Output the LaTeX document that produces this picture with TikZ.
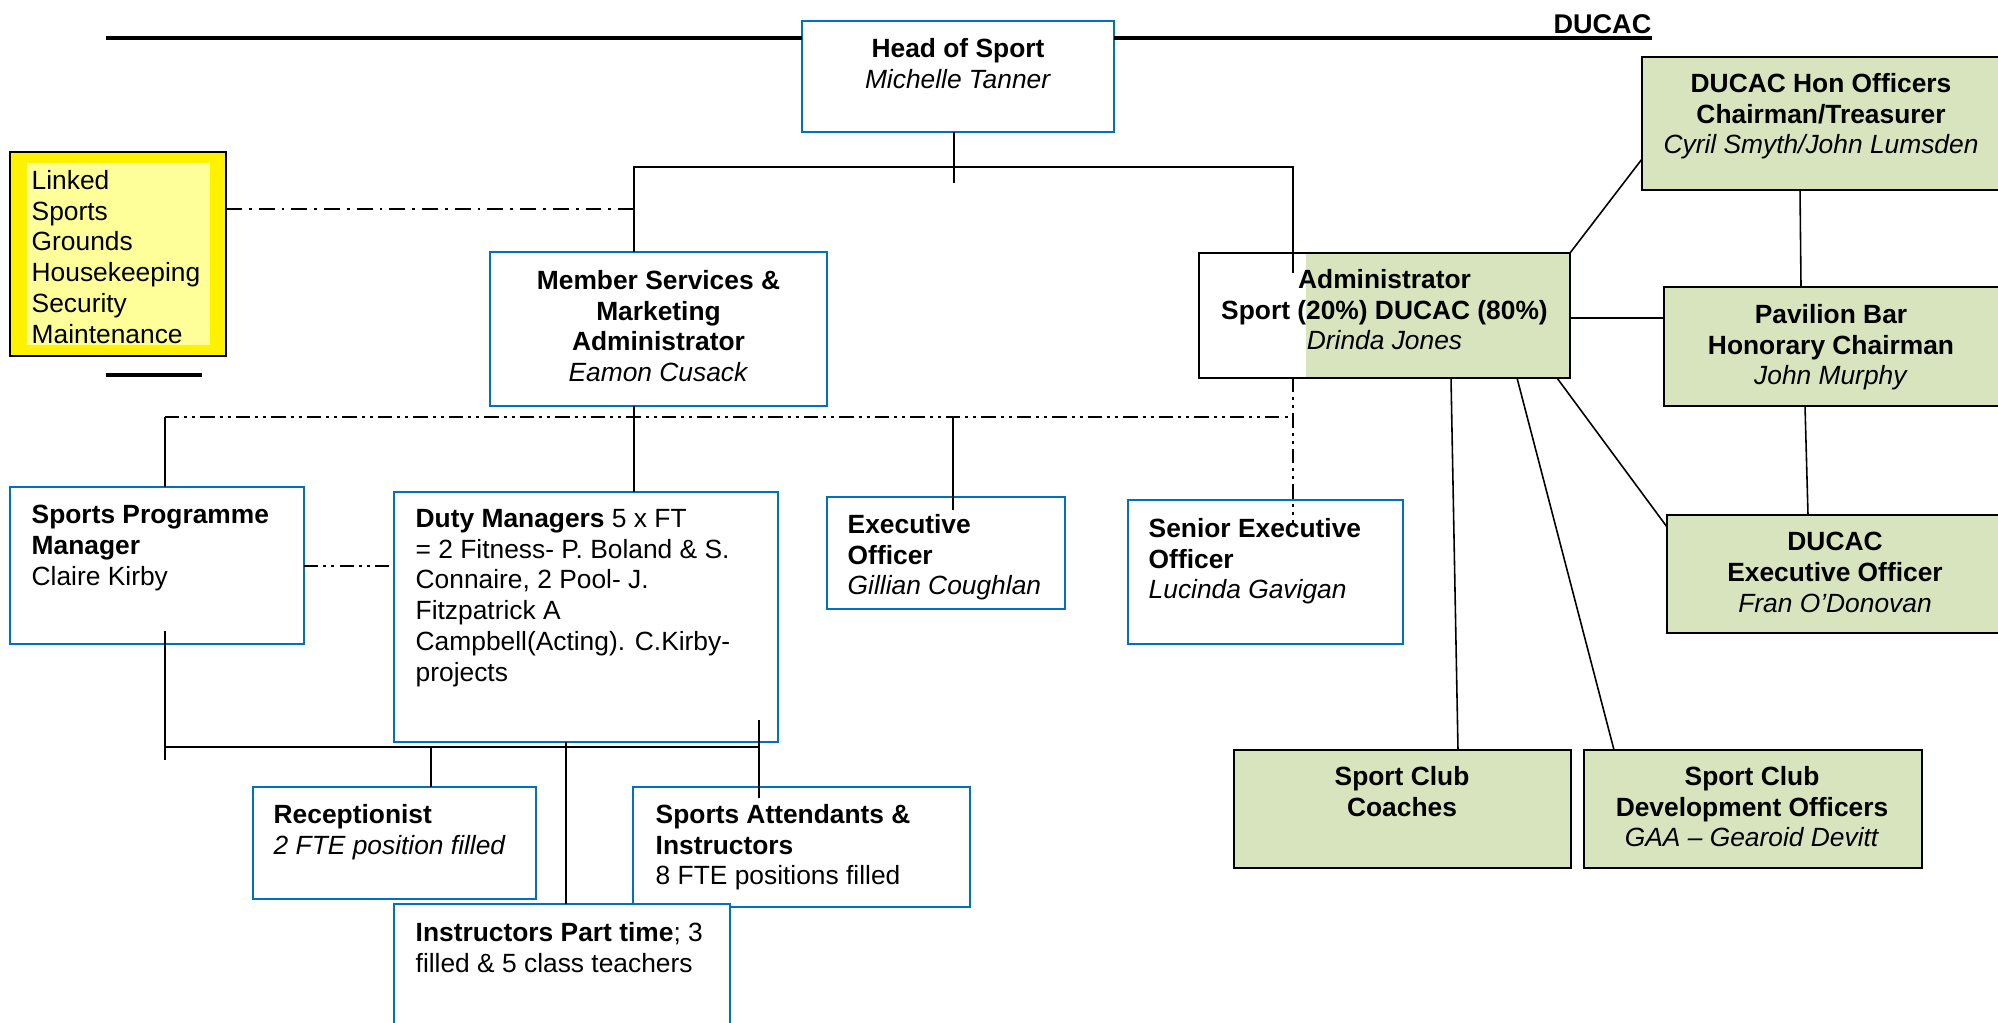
\documentclass[tikz,border=0pt]{standalone}
\usepackage{fontspec}
\setmainfont{Liberation Sans}
\usetikzlibrary{positioning}

\definecolor{boxblue}{HTML}{0070C0}
\definecolor{ducacgreen}{HTML}{D7E4BD}
\definecolor{paleyellow}{HTML}{FFFF99}

\begin{document}
\begin{tikzpicture}[
    bluebox/.style={draw=boxblue, line width=0.75pt, fill=white, anchor=north west, inner sep=0pt, outer sep=0pt},
    greenbox/.style={draw=black, line width=0.75pt, fill=ducacgreen, anchor=north west, inner sep=0pt, outer sep=0pt},
    ltxt/.style={anchor=north west, align=left, inner sep=0pt, font=\fontsize{7.5}{8.75}\selectfont},
    ctxt/.style={anchor=north, align=center, inner sep=0pt, font=\fontsize{7.5}{8.75}\selectfont},
    link/.style={draw, line width=0.45pt},
    rule/.style={draw, line width=1.15pt},
    dashdot/.style={draw, line width=0.6pt, dash pattern=on 4.5pt off 2pt on 0.8pt off 2pt},
    dashdotdot/.style={draw, line width=0.6pt, dash pattern=on 4pt off 1.5pt on 0.8pt off 1.5pt on 0.8pt off 1.5pt}
]
    \useasboundingbox (0,0) rectangle (19.98,-10.23);
    \clip (0,0) rectangle (19.98,-10.23);

    % boxes
    \node[bluebox, minimum width=3.12cm, minimum height=1.11cm] (head) at (8.02,-0.21) {};
    \node[bluebox, minimum width=3.37cm, minimum height=1.54cm] (member) at (4.90,-2.52) {};
    \node[draw, line width=0.75pt, fill=white, anchor=north west, inner sep=0pt, outer sep=0pt,
          minimum width=3.71cm, minimum height=1.25cm,
          path picture={\fill[ducacgreen] ([xshift=1.07cm]path picture bounding box.south west) rectangle (path picture bounding box.north east);}]
          (admin) at (11.99,-2.53) {};
    \node[greenbox, minimum width=3.60cm, minimum height=1.33cm] (hon) at (16.42,-0.57) {};
    \node[greenbox, minimum width=3.40cm, minimum height=1.19cm] (pav) at (16.64,-2.87) {};
    \node[greenbox, minimum width=3.40cm, minimum height=1.18cm] (dexec) at (16.67,-5.15) {};
    \node[greenbox, minimum width=3.37cm, minimum height=1.18cm] (coaches) at (12.34,-7.50) {};
    \node[greenbox, minimum width=3.38cm, minimum height=1.18cm] (devoff) at (15.84,-7.50) {};
    \node[bluebox, minimum width=2.94cm, minimum height=1.57cm] (spm) at (0.10,-4.87) {};
    \node[bluebox, minimum width=3.84cm, minimum height=2.50cm] (duty) at (3.94,-4.92) {};
    \node[bluebox, minimum width=2.38cm, minimum height=1.12cm] (exec) at (8.27,-4.97) {};
    \node[bluebox, minimum width=2.75cm, minimum height=1.44cm] (senior) at (11.28,-5.00) {};
    \node[bluebox, minimum width=2.83cm, minimum height=1.12cm] (recep) at (2.53,-7.87) {};
    \node[bluebox, minimum width=3.37cm, minimum height=1.20cm] (attend) at (6.33,-7.87) {};
    \node[bluebox, minimum width=3.36cm, minimum height=1.40cm] (parttime) at (3.94,-9.04) {};
    \node[draw, line width=0.75pt, fill=yellow, anchor=north west, inner sep=0pt, outer sep=0pt,
          minimum width=2.16cm, minimum height=2.04cm,
          path picture={\fill[paleyellow] ([shift={(0.17,0.11)}]path picture bounding box.south west) rectangle ([shift={(-0.16,-0.11)}]path picture bounding box.north east);}]
          (linked) at (0.10,-1.52) {};

    % junction points
    \coordinate (lineL) at (1.06,-0.38);
    \coordinate (lineR) at (16.52,-0.38);
    \coordinate (hstub) at (9.54,-1.83);
    \coordinate (barL) at (6.34,-1.67);
    \coordinate (barR) at (12.93,-1.67);
    \coordinate (admin in) at (12.93,-2.73);
    \coordinate (ddlink) at (6.34,-2.09);
    \coordinate (ddL) at (1.65,-4.17);
    \coordinate (ddR) at (12.93,-4.17);
    \coordinate (senior in) at (12.93,-5.23);
    \coordinate (exec in) at (9.53,-5.10);
    \coordinate (spm out) at (1.65,-6.31);
    \coordinate (spm end) at (1.65,-7.60);
    \coordinate (staffL) at (1.65,-7.47);
    \coordinate (staffR) at (7.59,-7.47);
    \coordinate (attend top) at (7.59,-7.20);
    \coordinate (attend in) at (7.59,-7.98);
    \coordinate (recep up) at (4.31,-7.47);
    \coordinate (pt up) at (5.66,-7.42);

    % heading rule
    \draw[rule] (lineL) -- (lineL -| head.west);
    \draw[rule] (lineL -| head.east) -- (lineR);
    \node[anchor=south east, inner sep=0pt, font=\fontsize{7.7}{9}\selectfont\bfseries] (ducac) at ([yshift=0.04cm]lineR) {DUCAC};
    \draw[rule] (1.06,-3.75) -- (2.02,-3.75);

    % solid reporting lines
    \draw[link] (head.south -| hstub) -- (hstub);
    \draw[link] (member.north -| barL) -- (barL) -- (barR) -- (admin in);
    \draw[link] (member.south -| barL) -- (duty.north -| barL);
    \draw[link] (ddL) -- (spm.north -| ddL);
    \draw[link] (exec in |- ddL) -- (exec in);
    \draw[link] (spm out) -- (spm end);
    \draw[link, line width=0.7pt] (staffL) -- (staffR);
    \draw[link] (attend top) -- (attend in);
    \draw[link] (recep up) -- (recep.north -| recep up);
    \draw[link] (pt up) -- (parttime.north -| pt up);

    % dotted links
    \draw[dashdot] (linked.east |- ddlink) -- (ddlink);
    \draw[dashdotdot] (ddL) -- (ddR);
    \draw[dashdotdot] (admin.south -| ddR) -- (senior in);
    \draw[dashdotdot] (spm.east |- 0,-5.66) -- (duty.west |- 0,-5.66);

    % DUCAC side
    \draw[link] (admin.north east) -- ([yshift=-0.355cm]hon.west);
    \draw[link] ([yshift=-0.025cm]admin.east) -- ([yshift=-0.025cm]admin.east -| pav.west);
    \draw[link] ([xshift=-0.22cm]hon.south) -- ([xshift=-0.33cm]pav.north);
    \draw[link] ([xshift=-0.29cm]pav.south) -- ([xshift=-0.29cm]dexec.north);
    \draw[link] ([xshift=0.665cm]admin.south) -- ([xshift=0.555cm]coaches.north);
    \draw[link] ([xshift=1.325cm]admin.south) -- ([xshift=-1.39cm]devoff.north);
    \draw[link] ([xshift=1.725cm]admin.south) -- ([yshift=0.47cm]dexec.west);

    % texts
    \node[ctxt] (head txt) at (9.58,-0.375) {\textbf{Head of Sport}\\\textit{Michelle Tanner}};
    \node[ctxt] (member txt) at (6.585,-2.695) {\textbf{Member Services \&}\\\textbf{Marketing}\\\textbf{Administrator}\\\textit{Eamon Cusack}};
    \node[ctxt] (admin txt) at (13.845,-2.685) {\textbf{Administrator}\\\textbf{Sport (20\%) DUCAC (80\%)}\\\textit{Drinda Jones}};
    \node[ctxt] (hon txt) at (18.21,-0.725) {\textbf{DUCAC Hon Officers}\\\textbf{Chairman/Treasurer}\\\textit{Cyril Smyth/John Lumsden}};
    \node[ctxt] (pav txt) at (18.31,-3.035) {\textbf{Pavilion Bar}\\\textbf{Honorary Chairman}\\\textit{John Murphy}};
    \node[ctxt] (dexec txt) at (18.35,-5.315) {\textbf{DUCAC}\\\textbf{Executive Officer}\\\textit{Fran O’Donovan}};
    \node[ctxt] (coaches txt) at (14.02,-7.655) {\textbf{Sport Club}\\\textbf{Coaches}};
    \node[ctxt] (devoff txt) at (17.52,-7.655) {\textbf{Sport Club}\\\textbf{Development Officers}\\\textit{GAA – Gearoid Devitt}};
    \node[ltxt] (spm txt) at (0.31,-5.045) {\textbf{Sports Programme}\\\textbf{Manager}\\Claire Kirby};
    \node[ltxt] (duty txt) at (4.15,-5.085) {\textbf{Duty Managers} 5 x FT\\= 2 Fitness- P. Boland \& S.\\Connaire, 2 Pool- J.\\Fitzpatrick A\\Campbell(Acting). C.Kirby-\\projects};
    \node[ltxt] (exec txt) at (8.47,-5.135) {\textbf{Executive}\\\textbf{Officer}\\\textit{Gillian Coughlan}};
    \node[ltxt] (senior txt) at (11.48,-5.175) {\textbf{Senior Executive}\\\textbf{Officer}\\\textit{Lucinda Gavigan}};
    \node[ltxt] (recep txt) at (2.73,-8.035) {\textbf{Receptionist}\\\textit{2 FTE position filled}};
    \node[ltxt] (attend txt) at (6.55,-8.035) {\textbf{Sports Attendants \&}\\\textbf{Instructors}\\8 FTE positions filled};
    \node[ltxt] (pt txt) at (4.15,-9.215) {\textbf{Instructors Part time}; 3\\filled \& 5 class teachers};
    \node[ltxt] (linked txt) at (0.31,-1.695) {Linked\\Sports\\Grounds\\Housekeeping\\Security\\Maintenance};
\end{tikzpicture}
\end{document}
